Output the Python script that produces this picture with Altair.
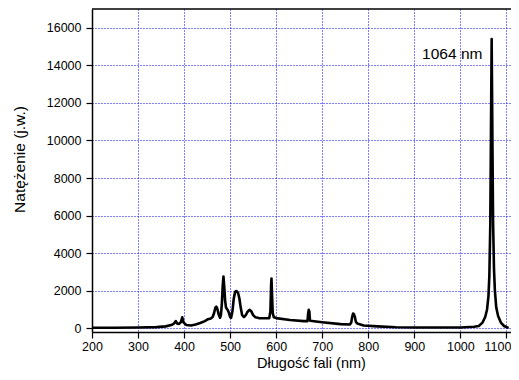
import altair as alt
import pandas as pd

wavelength = [200, 250, 300, 340, 360, 372, 378, 382, 385, 389, 393, 396, 399, 405, 415,
              425, 435, 445, 452, 458, 462, 465, 468, 470, 472, 475, 478, 480, 482, 484,
              485.5, 487, 489, 491, 494, 497, 500, 502, 505, 508, 511, 514, 517, 520, 523,
              526, 530, 534, 538, 542, 546, 550, 555, 562, 575, 585, 587.5, 589, 589.8, 591,
              592.5, 595, 600, 630, 660, 668, 669.5, 670.8, 672, 673.5, 700, 740, 760, 763,
              765, 767, 769, 771, 773, 776, 790, 820, 860, 900, 950, 1000, 1030, 1040,
              1048, 1054, 1058, 1061, 1063, 1065, 1066.5, 1068, 1069.5, 1071, 1073, 1075,
              1078, 1082, 1088, 1095, 1102, 1105]
intensity = [30, 30, 40, 60, 100, 170, 250, 380, 250, 230, 330, 580, 300, 170, 150,
             200, 280, 380, 480, 520, 600, 800, 1100, 1150, 1050, 750, 560, 700, 1300, 2300,
             2750, 2300, 1500, 1100, 1000, 850, 600, 550, 900, 1600, 1950, 1980, 1900, 1600, 1100,
             700, 600, 700, 880, 980, 900, 700, 580, 540, 530, 540, 900, 2300, 2650, 1800,
             800, 580, 540, 440, 380, 380, 800, 980, 900, 400, 320, 220, 200, 300,
             600, 780, 740, 600, 350, 250, 150, 100, 50, 40, 40, 40, 80, 120,
             300, 600, 1000, 1700, 2800, 5500, 10500, 15400, 10500, 5800, 3200, 2000,
             1100, 650, 300, 120, 40, 20]

label_text = ["1064 nm"]
label_x = [1048]
label_y = [14600]

W, H = 419, 323
FONT = "Liberation Sans"
GRID = "#0000ff"

df = pd.DataFrame({"nm": wavelength, "I": intensity})
lab = pd.DataFrame({"t": label_text, "x": label_x, "y": label_y})

x_scale = alt.Scale(domain=[200, 1110], nice=False, zero=False)
y_scale = alt.Scale(domain=[-200, 17000], nice=False, zero=False)

x_axis = alt.Axis(
    title="Długość fali (nm)",
    values=list(range(200, 1101, 50)),
    format="d",
    labelExpr="datum.value % 100 == 0 ? datum.label : ''",
    labelFlush=False,
    labelOverlap=False,
    labelOffset={"condition": {"test": "datum.value == 1100", "value": -9}, "value": 0},
    tickSize={"condition": {"test": "datum.value % 100 != 0", "value": 3}, "value": 6},
    tickColor="black",
    tickWidth=1.2,
    domainColor="black",
    domainWidth=1.5,
    grid=True,
    gridColor=GRID,
    gridDash=[1, 2],
    gridWidth=1,
    gridOpacity={"condition": {"test": "datum.value % 100 != 0 || datum.value == 200", "value": 0}, "value": 1},
    labelFont=FONT,
    labelFontSize=12.5,
    labelColor="black",
    labelPadding=2,
    titleFont=FONT,
    titleFontSize=14.5,
    titleFontWeight="normal",
    titleColor="black",
    titleX=219,
    titleY=31.5,
    titleBaseline="middle",
)

y_axis = alt.Axis(
    title="Natężenie (j.w.)",
    values=list(range(0, 16001, 1000)),
    format="d",
    labelExpr="datum.value % 2000 == 0 ? datum.label : ''",
    labelOverlap=False,
    labelFlush=False,
    tickSize={"condition": {"test": "datum.value % 2000 != 0", "value": 3}, "value": 6},
    tickColor="black",
    tickWidth=1.2,
    domainColor="black",
    domainWidth=1.5,
    grid=True,
    gridColor=GRID,
    gridDash=[1, 2],
    gridWidth=1,
    gridOpacity={"condition": {"test": "datum.value % 2000 != 0", "value": 0}, "value": 1},
    labelFont=FONT,
    labelFontSize=12.5,
    labelColor="black",
    labelPadding=5,
    titleFont=FONT,
    titleFontSize=15.5,
    titleFontWeight="normal",
    titleColor="black",
    titleAngle=-90,
    titleX=-73,
    titleY=150,
    titleBaseline="middle",
    titleAlign="center",
)

line = alt.Chart(df).mark_line(color="black", strokeWidth=2.6, clip=True,
                               strokeJoin="round").encode(
    x=alt.X("nm:Q", scale=x_scale, axis=x_axis),
    y=alt.Y("I:Q", scale=y_scale, axis=y_axis),
)

text = alt.Chart(lab).mark_text(align="right", baseline="middle", font=FONT,
                                fontSize=15.5, color="black").encode(
    x=alt.X("x:Q", scale=x_scale),
    y=alt.Y("y:Q", scale=y_scale),
    text="t:N",
)

top = alt.Chart(lab).mark_rule(color="black", strokeWidth=1.5).encode(
    y=alt.value(0), x=alt.value(0), x2=alt.value(W)
)

chart = alt.layer(line, text, top).properties(
    width=W, height=H,
    autosize=alt.AutoSizeParams(type="none"),
    padding={"left": 84, "top": 1, "right": 0, "bottom": 39},
    background="white",
).configure_view(stroke=None)

chart.save("out.html", embed_options={"renderer": "svg", "actions": False})
